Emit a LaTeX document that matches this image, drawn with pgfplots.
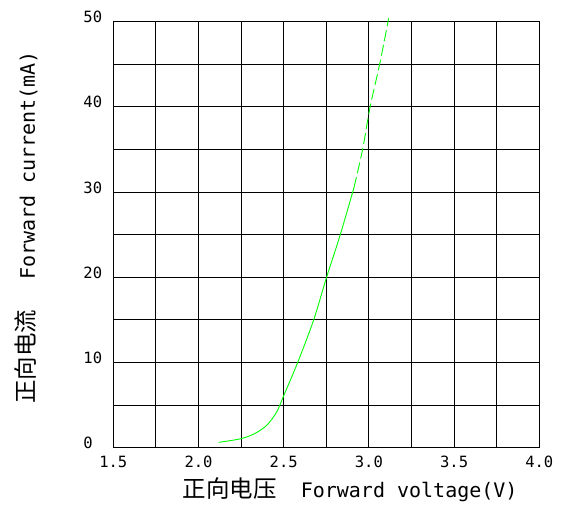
\documentclass[border=0pt]{standalone}
\usepackage{fontspec}
\usepackage{pgfplots}
\pgfplotsset{compat=1.18}
\setmainfont{DejaVu Sans}
\newfontfamily\monofont{DejaVu Sans Mono}
\newfontfamily\cjk{Noto Sans CJK SC}
\definecolor{curvegreen}{RGB}{0,255,0}

\begin{document}
\begin{tikzpicture}
  \begin{axis}[
    at={(0,0)}, anchor=south west,
    scale only axis, width=426bp, height=426bp,
    xmin=1.5, xmax=4.0, ymin=0, ymax=50,
    xtick={1.5,2.0,2.5,3.0,3.5,4.0},
    xticklabels={1.5,2.0,2.5,3.0,3.5,4.0},
    ytick={0,10,20,30,40,50},
    minor xtick={1.75,2.25,2.75,3.25,3.75},
    minor ytick={5,15,25,35,45},
    grid=both,
    major grid style={black, line width=0.9bp},
    minor grid style={black, line width=0.9bp},
    axis line style={black, line width=0.9bp},
    major tick length=0pt, minor tick length=0pt,
    /pgf/number format/assume math mode=true,
    xticklabel style={font=\monofont\fontsize{15.5bp}{18bp}\selectfont,
      anchor=base, inner sep=0pt, yshift=-19.5bp},
    yticklabel style={font=\monofont\fontsize{15.5bp}{18bp}\selectfont,
      anchor=base west, inner sep=0pt, xshift=-30bp, yshift=-1bp},
    xlabel={{\cjk\fontsize{23.5bp}{26bp}\selectfont 正向电压}\hspace{24bp}Forward voltage(V)},
    xlabel style={font=\monofont\fontsize{20bp}{24bp}\selectfont,
      at={(axis description cs:0.556,-0.118)}, anchor=base, inner sep=0pt},
    ylabel={{\cjk\fontsize{23.5bp}{26bp}\selectfont 正向电流}\hspace{30bp}Forward current(mA)},
    ylabel style={font=\monofont\fontsize{20bp}{24bp}\selectfont,
      at={(axis description cs:-0.184,0.517)}, anchor=base, inner sep=0pt},
    clip=false,
  ]
    % measured part of the curve
    \addplot[curvegreen, line width=0.9bp, smooth] coordinates {
      (2.118,0.63) (2.25,1.06) (2.333,1.69) (2.402,2.66) (2.459,4.2)
      (2.5,6.1) (2.582,10) (2.676,15) (2.75,19.9) (2.832,25) (2.912,30.5)
    };
    % extrapolated part
    \addplot[curvegreen, line width=0.9bp, smooth, dash pattern=on 11bp off 4bp] coordinates {
      (2.912,30.5) (2.963,35) (3.007,40) (3.063,45) (3.116,50.4)
    };
  \end{axis}
  \path (-113.3bp,-59.3bp) rectangle (452.7bp,447.7bp);
\end{tikzpicture}
\end{document}
